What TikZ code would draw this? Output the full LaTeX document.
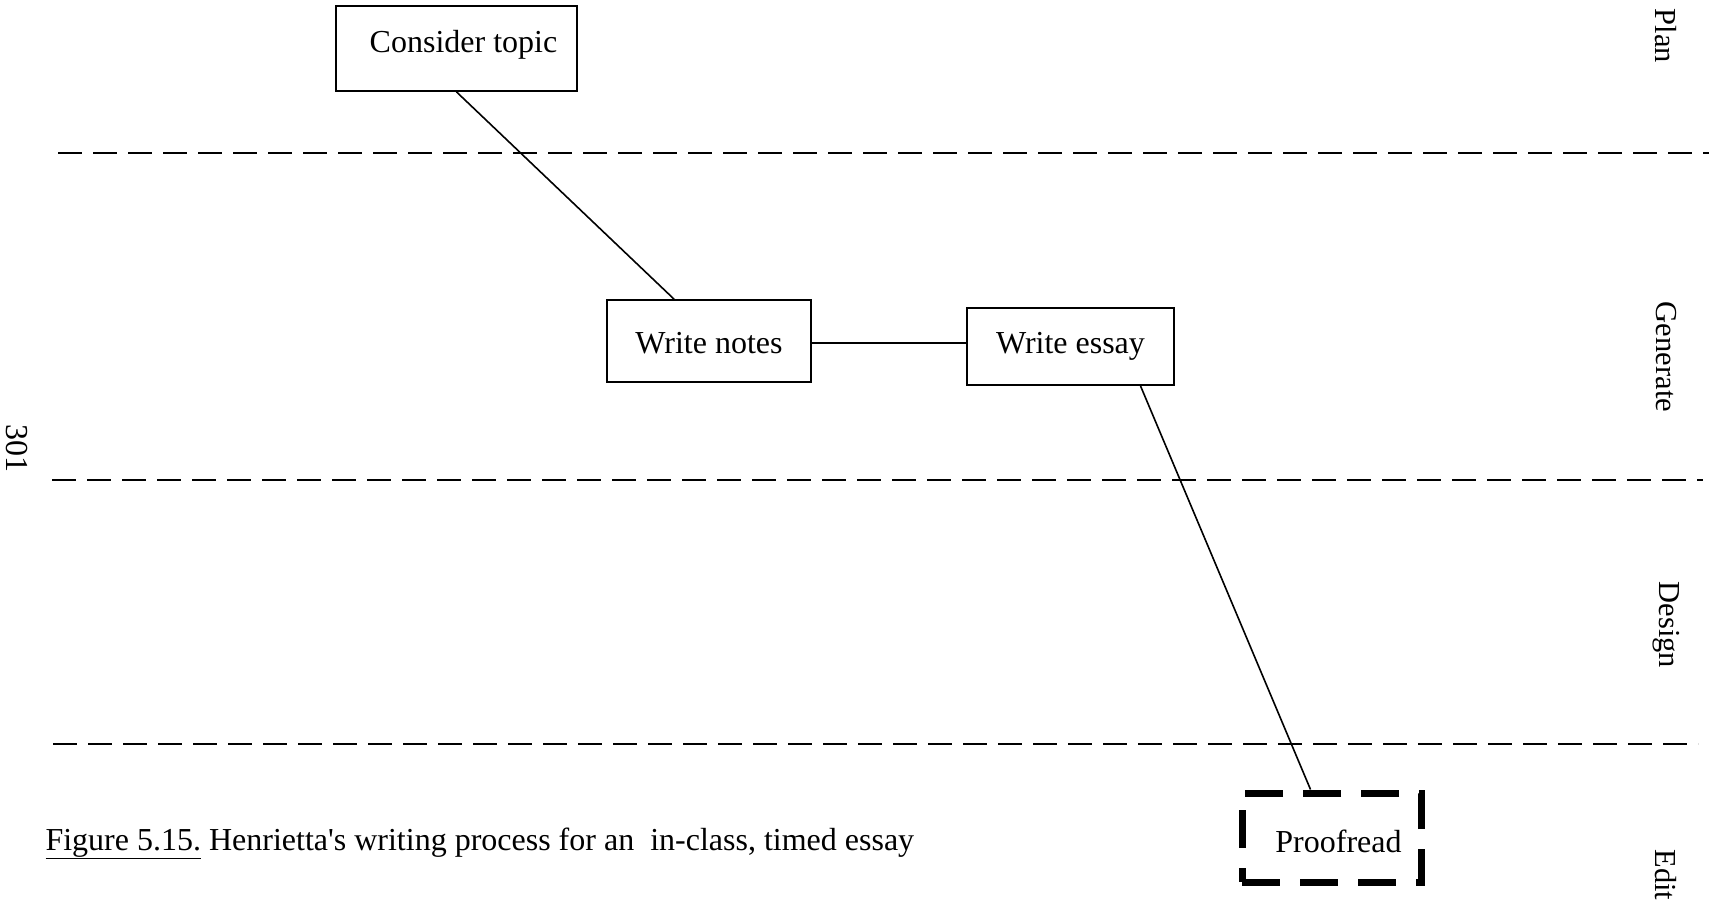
\documentclass[tikz,border=0pt]{standalone}
\usepackage{fontspec}
\setmainfont{Liberation Serif}
\begin{document}
\begin{tikzpicture}[x=1pt,y=-1pt,
  txt/.style={font=\fontsize{32}{36}\selectfont},
  stage/.style={draw, line width=1.8pt, inner sep=0pt, txt},
  link/.style={line width=1.6pt},
  divider/.style={line width=1.6pt, dash pattern=on 24pt off 11pt},
  edited/.style={draw, line width=7pt, dash pattern=on 38pt off 20pt, inner sep=0pt, txt},
  phase/.style={font=\fontsize{30.5}{34}\selectfont, rotate=-90}]
\useasboundingbox (0,0) rectangle (1723,907);
\fill[white] (0,0) rectangle (1723,907);

% phase separators
\draw[divider] (58,153) -- (1709,153);
\draw[divider] (52,480) -- (1703,480);
\draw[divider] (53,744) -- (1698,744);

% phase labels
\node[phase] (plan) at (1666,36) {Plan};
\node[phase] (gen) at (1666,357) {Generate};
\node[phase] (des) at (1666,625) {Design};
\node[phase] (edit) at (1666,875) {Edit};

% activities
\node[stage, minimum width=241pt, minimum height=85pt, text height=22pt, text depth=14pt] (ct) at (456.5,48.5) {\hspace*{14pt}Consider topic};
\node[stage, minimum width=204pt, minimum height=82pt, text height=25pt, text depth=0pt] (wn) at (709,341) {Write notes};
\node[stage, minimum width=207pt, minimum height=77pt, text height=22pt, text depth=8pt] (we) at (1070.5,346.5) {Write essay};
\node[edited, minimum width=179pt, minimum height=89pt, text height=30pt, text depth=0pt] (pr) at (1331.5,837.5) {\hspace*{14pt}Proofread};

% sequence
\draw[link] (ct.south) -- ([xshift=-35pt]wn.north);
\draw[link] ([yshift=-2pt]wn.east) -- ([yshift=-2pt]we.west |- wn.east);
\draw[link] ([xshift=70pt]we.south) -- ([xshift=-21pt]pr.north);

% page number and caption
\node[font=\fontsize{32}{36}\selectfont, rotate=-90] (page) at (17,448) {301};
\node[txt, anchor=west] (cap) at (42,843.5) {\underline{Figure 5.15.} Henrietta\textquotesingle s writing process for an\ \ in-class, timed essay};
\end{tikzpicture}
\end{document}
